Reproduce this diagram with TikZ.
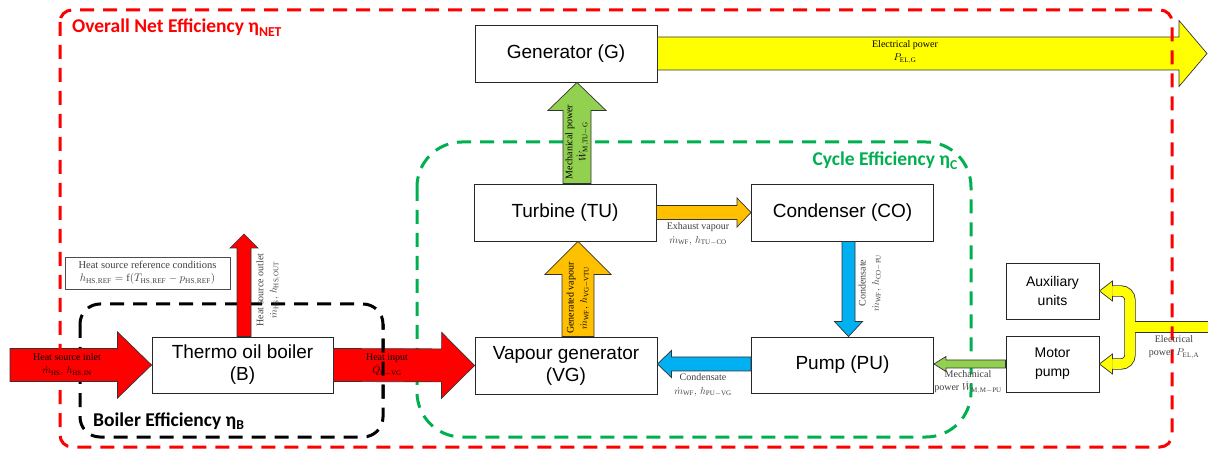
\documentclass[tikz,border=0pt]{standalone}
\usepackage{fontspec}
\setmainfont{Liberation Serif}
\newfontfamily\boxfont{Liberation Sans}
\newfontfamily\titlefont{Carlito}
\usetikzlibrary{calc}
\definecolor{hred}{HTML}{FF0000}
\definecolor{horange}{HTML}{FFC000}
\definecolor{hgreen}{HTML}{92D050}
\definecolor{hblue}{HTML}{00B0F0}
\definecolor{hyellow}{HTML}{FFFF00}
\definecolor{dgreen}{HTML}{00B050}
\definecolor{lblgray}{HTML}{404040}
% #1 tail, #2 tip, #3 shaft half width, #4 head half width, #5 head length, #6 style
\newcommand\blockarrow[6]{%
  \coordinate (ba-h) at ($(#2)!#5!(#1)$);
  \filldraw[#6] ($(#1)!#3!90:(#2)$) -- ($(ba-h)!#3!-90:(#1)$) -- ($(ba-h)!#4!-90:(#1)$) -- (#2)
     -- ($(ba-h)!#4!90:(#1)$) -- ($(ba-h)!#3!90:(#1)$) -- ($(#1)!#3!-90:(#2)$) -- cycle;
}
\newcommand\mflow[2]{$\dot{m}_{\mathrm{#1}},\,h_{\mathrm{#2}}$}
\begin{document}
\begin{tikzpicture}[x=1pt,y=-1pt,
  box/.style={draw=black!85, line width=0.9pt, fill=white, align=center, inner sep=0pt,
    font=\boxfont\fontsize{19}{22}\selectfont, minimum width=182pt, minimum height=57pt},
  smallbox/.style={box, font=\boxfont\fontsize{14}{19}\selectfont, minimum width=93pt, minimum height=56pt},
  lbl/.style={font=\fontsize{10}{13.5}\selectfont, align=center, text=lblgray, inner sep=0pt},
  inlbl/.style={lbl, text=black},
  arr/.style={draw=black!80, line width=0.7pt, line join=miter},
  effbox/.style={line width=3pt, dash pattern=on 14pt off 9pt},
  title/.style={font=\titlefont\bfseries\fontsize{19.5}{22}\selectfont, inner sep=0pt}
]
\useasboundingbox (0,0) rectangle (1208,454);

% cycle and boiler efficiency boxes (behind arrows)
\draw[effbox, draw=dgreen, rounded corners=45pt] (417,142) rectangle (971,437);
\draw[effbox, draw=black, rounded corners=20pt] (80,304) rectangle (383,437);

% boxes
\node[box] (G)  at (566,53.5)  {Generator (G)};
\node[box] (TU) at (565,212.5) {Turbine (TU)};
\node[box] (CO) at (842.5,212.5) {Condenser (CO)};
\node[box] (VG) at (566,365.5) {Vapour generator\\(VG)};
\node[box, minimum height=56pt] (PU) at (842.5,365) {Pump (PU)};
\node[box, minimum width=181pt, minimum height=56pt] (B) at (242.5,365) {Thermo oil boiler\\(B)};
\node[smallbox] (AU) at (1052.5,291) {Auxiliary\\units};
\node[smallbox] (MP) at (1052.5,364) {Motor\\pump};
\node[draw=black!70, line width=0.8pt, fill=white, minimum width=165pt, minimum height=32pt,
  font=\fontsize{10.5}{13}\selectfont, align=center, text=lblgray, inner sep=0pt] (REF) at (147.5,273)
  {Heat source reference conditions\\$h_{\mathrm{HS,REF}} = \mathrm{f}(T_{\mathrm{HS,REF}} - p_{\mathrm{HS,REF}})$};

% arrow end points
\coordinate (hsin) at (10,365);
\coordinate (hsout-t) at ($(B.north)+(1.5,0)$);
\coordinate (hsout) at (244,234);
\coordinate (gv-t) at ($(VG.north)+(12,0)$);
\coordinate (gv-h) at ($(TU.south)+(13,0)$);
\coordinate (mt-t) at ($(TU.north)+(12,0)$);
\coordinate (mt-h) at ($(G.south)+(11,0)$);
\coordinate (ex-t) at (TU.east);
\coordinate (ex-h) at (CO.west);
\coordinate (cp-t) at ($(CO.south)+(6,0)$);
\coordinate (cp-h) at ($(PU.north)+(6,0)$);
\coordinate (pv-t) at ($(PU.west)+(0,-1)$);
\coordinate (pv-h) at ($(VG.east)+(0,-1.5)$);
\coordinate (mp-t) at (MP.west);
\coordinate (mp-h) at (PU.east |- MP.west);
\coordinate (elg) at (1207,53.5);

\blockarrow{hsin}{B.west}{16.5pt}{33pt}{34pt}{arr, fill=hred}
\blockarrow{B.east}{VG.west}{16.5pt}{33pt}{33pt}{arr, fill=hred}
\blockarrow{hsout-t}{hsout}{7pt}{14pt}{14pt}{arr, fill=hred}
\blockarrow{gv-t}{gv-h}{16pt}{33pt}{33pt}{arr, fill=horange}
\blockarrow{mt-t}{mt-h}{14pt}{29pt}{28pt}{arr, fill=hgreen}
\blockarrow{ex-t}{ex-h}{7pt}{14.5pt}{14pt}{arr, fill=horange}
\blockarrow{cp-t}{cp-h}{6.5pt}{14pt}{15pt}{arr, fill=hblue}
\blockarrow{pv-t}{pv-h}{7pt}{13.5pt}{14pt}{arr, fill=hblue}
\blockarrow{mp-t}{mp-h}{4pt}{7.5pt}{12pt}{arr, fill=hgreen}
\blockarrow{G.east}{elg}{16.5pt}{33pt}{28pt}{arr, fill=hyellow}

% electrical branch to auxiliary units and motor pump
\coordinate (br-a) at ($(AU.east)+(13,0)$);
\coordinate (br-m) at ($(MP.east)+(13,0)$);
\coordinate (br-j) at (1130,327);
\coordinate (br-r) at (1209,327);
\draw[line width=11.2pt, black!80, rounded corners=9pt] (br-a) -- (br-a -| br-j) -- (br-m -| br-j) -- (br-m);
\draw[line width=11.2pt, black!80] (br-j) -- (br-r);
\draw[line width=9.6pt, hyellow, rounded corners=9pt] (br-a) -- (br-a -| br-j) -- (br-m -| br-j) -- (br-m);
\draw[line width=9.6pt, hyellow] (br-j) -- (br-r);
\filldraw[arr, fill=hyellow] ($(br-a)+(0,-4.8)$) -- ($(br-a)+(0,-10)$) -- (AU.east) -- ($(br-a)+(0,10)$) -- ($(br-a)+(0,4.8)$);
\filldraw[arr, fill=hyellow] ($(br-m)+(0,-4.8)$) -- ($(br-m)+(0,-10)$) -- (MP.east) -- ($(br-m)+(0,10)$) -- ($(br-m)+(0,4.8)$);

% boiler box edge shown over the heat input arrow, overall box on top
\begin{scope}
  \clip (365,325) rectangle (400,405);
  \draw[effbox, draw=black, rounded corners=20pt] (80,304) rectangle (383,437);
\end{scope}
\draw[effbox, draw=hred, rounded corners=12pt] (60,10) rectangle (1172,447);

% titles
\node[title, text=hred, anchor=base west] (tnet) at (72,33) {Overall Net Efficiency η\textsubscript{NET}};
\node[title, text=black, anchor=base west] (tb) at (93,426) {Boiler Efficiency η\textsubscript{B}};
\node[title, text=dgreen, anchor=base east] (tc) at (958,166) {Cycle Efficiency η\textsubscript{C}};

% labels
\node[inlbl] (l-in) at (67,365) {Heat source inlet\\\mflow{HS}{HS,IN}};
\node[inlbl] (l-hi) at (387,365) {Heat input\\$\dot{Q}_{\mathrm{B-VG}}$};
\node[lbl, rotate=90] (l-out) at (268,290) {Heat source outlet\\\mflow{HS}{HS,OUT}};
\node[inlbl, rotate=90] (l-mt) at (577,142) {Mechanical power\\$\dot{W}_{\mathrm{M,TU-G}}$};
\node[inlbl, rotate=90] (l-gv) at (578,298) {Generated vapour\\\mflow{WF}{VG-VTU}};
\node[lbl] (l-ex) at (698,234) {Exhaust vapour\\\mflow{WF}{TU-CO}};
\node[lbl, rotate=90] (l-cp) at (870,283) {Condensate\\\mflow{WF}{CO-PU}};
\node[lbl] (l-pv) at (703,385) {Condensate\\\mflow{WF}{PU-VG}};
\node[lbl] (l-mp) at (968,382) {Mechanical\\power $\dot{W}_{\mathrm{M,M-PU}}$};
\node[lbl] (l-ea) at (1174,347) {Electrical\\power $P_{\mathrm{EL,A}}$};
\node[inlbl] (l-eg) at (905,52) {Electrical power\\$P_{\mathrm{EL,G}}$};
\end{tikzpicture}
\end{document}
